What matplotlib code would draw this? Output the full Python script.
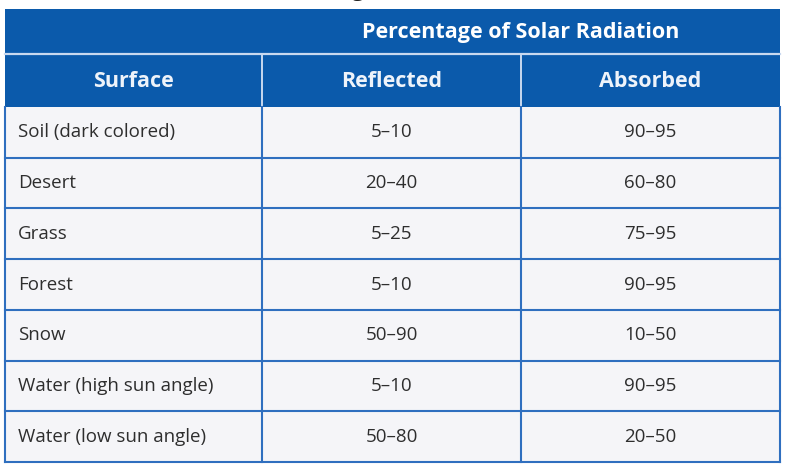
import matplotlib.pyplot as plt
from matplotlib.patches import Rectangle

# table content
group_header = "Percentage of Solar Radiation"
col_headers = ["Surface", "Reflected", "Absorbed"]
surfaces = ["Soil (dark colored)", "Desert", "Grass", "Forest", "Snow",
            "Water (high sun angle)", "Water (low sun angle)"]
reflected = ["5\u201310", "20\u201340", "5\u201325", "5\u201310", "50\u201390", "5\u201310", "50\u201380"]
absorbed = ["90\u201395", "60\u201380", "75\u201395", "90\u201395", "10\u201350", "90\u201395", "20\u201350"]

# layout (pixels)
col_edges = [5, 262, 521, 780]
top1, top2, body_top, bottom = 9, 54, 107, 462
BLUE = "#0b5aab"
LINE = "#2f6fbf"
BG = "#f5f5f8"
TXT = "#2e2e2e"

plt.rcParams['font.family'] = ['Open Sans', 'DejaVu Sans']

fig = plt.figure(figsize=(7.9, 4.66), dpi=100)
ax = fig.add_axes([0, 0, 1, 1])
ax.set_xlim(0, 790)
ax.set_ylim(466, 0)
ax.axis('off')

# title remnant: only the descender of a cropped "g" shows at the top
ax.text(358, -4, "g", ha='center', va='baseline', fontsize=16, color="#222222")

# header block
ax.add_patch(Rectangle((col_edges[0], top1), col_edges[-1] - col_edges[0], body_top - top1,
                       facecolor=BLUE, edgecolor='none'))
ax.plot([col_edges[0], col_edges[-1]], [top2, top2], color="#c9d9ef", lw=1.6)
for x in col_edges[1:-1]:
    ax.plot([x, x], [top2, body_top], color="#c9d9ef", lw=1.4)

ax.text((col_edges[1] + col_edges[3]) / 2, (top1 + top2) / 2 + 1, group_header,
        ha='center', va='center', fontsize=15.5, fontweight='bold', color='white')
for i, h in enumerate(col_headers):
    ax.text((col_edges[i] + col_edges[i + 1]) / 2, (top2 + body_top) / 2 + 1, h,
            ha='center', va='center', fontsize=15.5, fontweight='bold', color='#eef3fa')

# body
n = len(surfaces)
rh = (bottom - body_top) / n
ax.add_patch(Rectangle((col_edges[0], body_top), col_edges[-1] - col_edges[0], bottom - body_top,
                       facecolor=BG, edgecolor='none'))
for r in range(n):
    yc = body_top + rh * (r + 0.5)
    ax.text(col_edges[0] + 13, yc, surfaces[r], ha='left', va='center', fontsize=13.5, color=TXT)
    ax.text((col_edges[1] + col_edges[2]) / 2, yc, reflected[r], ha='center', va='center',
            fontsize=13.5, color=TXT)
    ax.text((col_edges[2] + col_edges[3]) / 2, yc, absorbed[r], ha='center', va='center',
            fontsize=13.5, color=TXT)

# grid lines
for r in range(1, n + 1):
    y = body_top + rh * r
    ax.plot([col_edges[0], col_edges[-1]], [y, y], color=LINE, lw=1.5)
for x in col_edges:
    ax.plot([x, x], [body_top, bottom], color=LINE, lw=1.5)

fig.savefig("out.png", dpi=100, facecolor='white')
